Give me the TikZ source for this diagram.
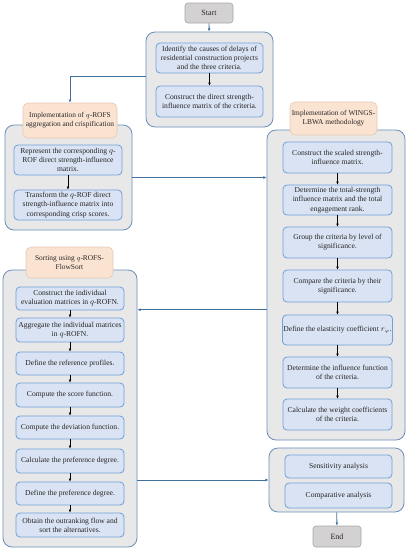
\documentclass[tikz,border=0pt]{standalone}
\usepackage{fontspec}
\setmainfont{Liberation Serif}
\usetikzlibrary{arrows.meta,calc}
\definecolor{contfill}{HTML}{E8E8E8}
\definecolor{contdraw}{HTML}{6A8EBA}
\definecolor{boxfill}{HTML}{DAE3F3}
\definecolor{boxdraw}{HTML}{6FA0D8}
\definecolor{headfill}{HTML}{FBE3D2}
\definecolor{headdraw}{HTML}{E2C9B6}
\definecolor{termfill}{HTML}{D3D1D1}
\definecolor{termdraw}{HTML}{A6A6A6}
\definecolor{linkblue}{HTML}{41719C}
\definecolor{txt}{HTML}{262626}
\tikzset{
  container/.style={draw=contdraw, fill=contfill, line width=0.8pt, rounded corners=9pt, inner sep=0pt},
  stepbox/.style={draw=boxdraw, fill=boxfill, line width=0.8pt, rounded corners=4pt, inner sep=1pt, align=center,
    text=txt, font=\fontsize{7.6}{9.2}\selectfont},
  headbox/.style={draw=headdraw, fill=headfill, line width=0.6pt, rounded corners=5pt, inner sep=1pt, align=center,
    text=txt, font=\fontsize{7.4}{9.2}\selectfont},
  termbox/.style={draw=termdraw, fill=termfill, line width=0.6pt, rounded corners=3pt, inner sep=1pt, align=center,
    text=txt, font=\fontsize{8}{9}\selectfont},
  flow/.style={-{Latex[length=3pt,width=2.6pt]}, line width=0.5pt, black},
  link/.style={-{Latex[length=3.2pt,width=2.8pt]}, line width=0.8pt, linkblue},
}
\newcommand{\bx}[6]{\node[#1, minimum width=#4pt, minimum height=#5pt] (#2) at (#3) {#6};}
\begin{document}
\begin{tikzpicture}[x=1pt,y=-1pt]
\useasboundingbox (0,0) rectangle (408,550);
% containers
\bx{container}{T}{209.5,79.5}{127}{95}{}
\bx{container}{L}{68.5,177.5}{127}{105}{}
\bx{container}{R}{336,285}{138}{310}{}
\bx{container}{S}{70,408.5}{134}{277}{}
\bx{container}{B}{336.5,480}{135}{64}{}
% terminals
\bx{termbox}{start}{209,13}{48}{20}{Start}
\bx{termbox}{end}{337,536.5}{48}{21}{End}
% top
\bx{stepbox}{t1}{209.5,58}{107}{30}{Identify the causes of delays of\\residential construction projects\\and the three criteria.}
\bx{stepbox}{t2}{209.5,101.5}{107}{31}{Construct the direct strength-\\influence matrix of the criteria.}
% left
\bx{headbox}{LH}{70,120.5}{94}{35}{Implementation of $q$-ROFS\\aggregation and crispification}
\bx{stepbox}{l1}{68,160}{108}{30}{Represent the corresponding $q$-\\ROF direct strength-influence\\matrix.}
\bx{stepbox}{l2}{68,205}{108}{30}{Transform the $q$-ROF direct\\strength-influence matrix into\\corresponding crisp scores.}
% right
\bx{headbox}{RH}{333.5,118.5}{87}{33}{Implementation of WINGS-\\LBWA methodology}
\bx{stepbox}{r1}{337.5,157.5}{109}{31}{Construct the scaled strength-\\influence matrix.}
\bx{stepbox}{r2}{337.5,200}{109}{30}{Determine the total-strength\\influence matrix and the total\\engagement rank.}
\bx{stepbox}{r3}{337.5,242.5}{109}{31}{Group the criteria by level of\\significance.}
\bx{stepbox}{r4}{337.5,286}{109}{32}{Compare the criteria by their\\significance.}
\bx{stepbox}{r5}{337.5,330}{109}{30}{Define the elasticity coefficient $r_{\varphi}$.}
\bx{stepbox}{r6}{337.5,372.5}{109}{31}{Determine the influence function\\of the criteria.}
\bx{stepbox}{r7}{337.5,414.5}{109}{31}{Calculate the weight coefficients\\of the criteria.}
% sorting
\bx{headbox}{SH}{69.5,262.5}{87}{31}{Sorting using $q$-ROFS-\\FlowSort}
\bx{stepbox}{s1}{70,298.5}{108}{23}{Construct the individual\\evaluation matrices in $q$-ROFN.}
\bx{stepbox}{s2}{70,330}{108}{24}{Aggregate the individual matrices\\in $q$-ROFN.}
\bx{stepbox}{s3}{70,363.5}{108}{23}{Define the reference profiles.}
\bx{stepbox}{s4}{70,395}{108}{24}{Compute the score function.}
\bx{stepbox}{s5}{70,427.5}{108}{23}{Compute the deviation function.}
\bx{stepbox}{s6}{70,461}{108}{24}{Calculate the preference degree.}
\bx{stepbox}{s7}{70,493.5}{108}{23}{Define the preference degree.}
\bx{stepbox}{s8}{70,525}{108}{24}{Obtain the outranking flow and\\sort the alternatives.}
% bottom
\bx{stepbox}{b1}{338.5,466.5}{107}{23}{Sensitivity analysis}
\bx{stepbox}{b2}{338.5,495.5}{107}{25}{Comparative analysis}
% inner flows
\draw[flow] (t1) -- (t2);
\draw[flow] (l1) -- (l2);
\foreach \a/\b in {r1/r2,r2/r3,r3/r4,r4/r5,r5/r6,r6/r7,s1/s2,s2/s3,s3/s4,s4/s5,s5/s6,s6/s7,s7/s8}
  \draw[flow] (\a) -- (\b);
% links
\draw[link] (start) -- (T);
\coordinate (tl) at ($(T.north west)!0.47!(T.south west)$);
\draw[link] (tl) -| (LH.north);
\draw[link] (L.east) -- (L.east -| R.west);
\coordinate (m45) at ($(r4.south)!0.6!(r5.north)$);
\draw[link] (m45 -| R.west) -- (m45 -| S.east);
\draw[link] (S.east |- B.west) -- (B.west);
\draw[link] (B) -- (end);
\end{tikzpicture}
\end{document}
